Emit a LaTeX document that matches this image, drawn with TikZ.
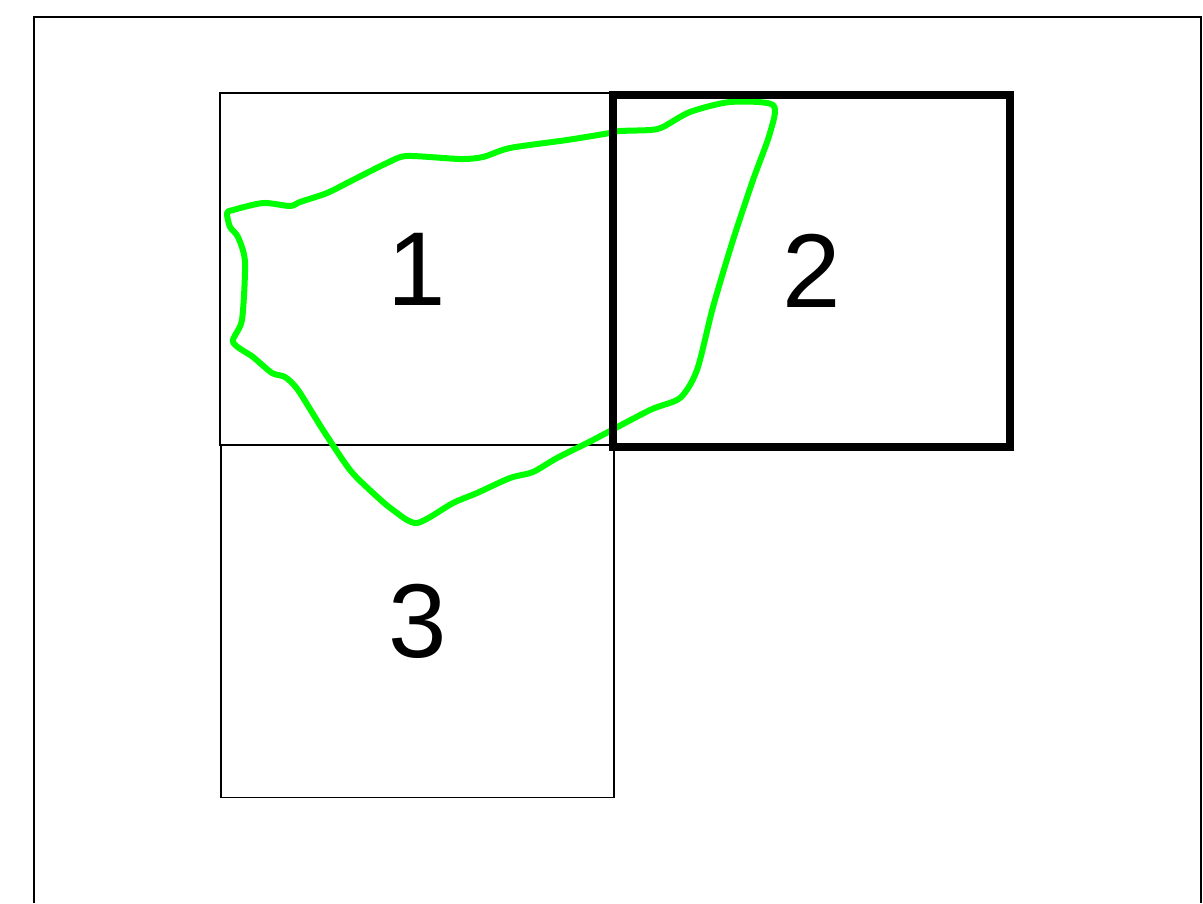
\documentclass[tikz,border=0pt]{standalone}
\usepackage{fontspec}
\setmainfont{Liberation Sans}
\begin{document}
\begin{tikzpicture}[x=1pt,y=-1pt,
  cell/.style={draw=black,line width=1.4pt,minimum width=393pt,minimum height=352pt,inner sep=0pt,font=\fontsize{105}{105}\selectfont},
  boldcell/.style={draw=black,line width=8pt,minimum width=397pt,minimum height=352pt,inner sep=0pt,font=\fontsize{105}{105}\selectfont},
  blob/.style={draw={rgb,255:red,0;green,255;blue,0},line width=6pt,line join=round}]
\useasboundingbox (0,0) rectangle (1203,903);
\fill[white] (0,0) rectangle (1203,903);
\coordinate (fl) at (34,903);
\coordinate (ftl) at (34,17);
\coordinate (ftr) at (1201,17);
\coordinate (fr) at (1201,903);
\draw[line width=2.6pt] (fl) -- (ftl) -- (ftr) -- (fr);
\node[cell] (c1) at (416.5,269) {1};
\node[cell] (c3) at (417.5,621.5) {3};
\draw[blob] plot[smooth cycle,tension=0.45] coordinates {
(227,213) (230,227) (238,237) (245,262) (242,320) (233,342) (253,357) (272,373) (285,377) (298,390) (323,430) (350,470) (373,493) (393,510) (417,523) (453,503) (477,493) (510,478) (533,472) (557,458) (593,440) (650,410) (680,398) (697,370) (713,307) (733,240) (753,180) (770,133) (773,105) (730,102) (690,112) (663,127) (650,130) (620,131) (610,133) (567,140) (510,148) (483,157) (460,159) (407,156) (387,163) (353,180) (327,193) (300,202) (290,206) (263,203) (233,210)};
\node[boldcell] (c2) at (811.5,270.5) {2};
\end{tikzpicture}
\end{document}
